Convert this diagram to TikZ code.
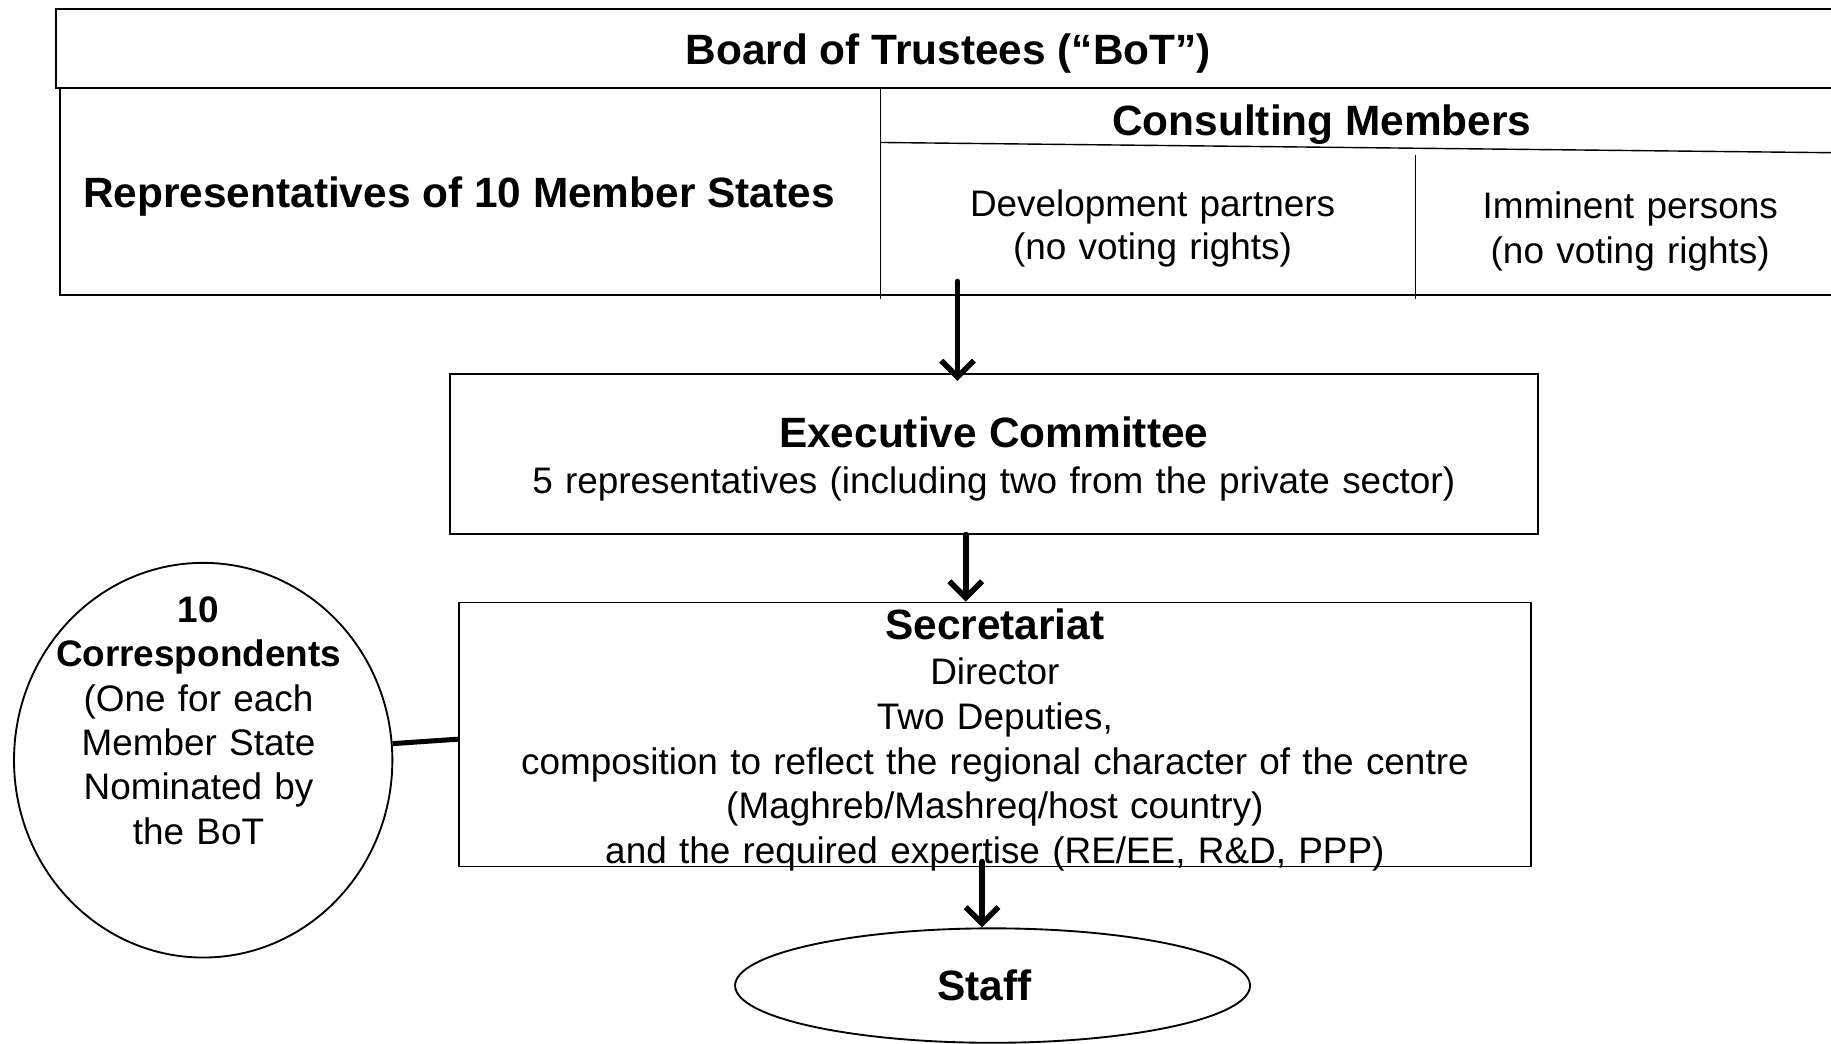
\documentclass[tikz,border=0pt]{standalone}
\usepackage{fontspec}
\setmainfont{Liberation Sans}
\usetikzlibrary{arrows.meta,shapes.geometric}
\begin{document}
\begin{tikzpicture}[x=1pt,y=-1pt,
  bigb/.style={font=\fontsize{36.3}{43}\selectfont\bfseries, inner sep=0pt, anchor=base},
  regtxt/.style={font=\fontsize{31.6}{#1}\selectfont, inner sep=0pt, anchor=base, align=center, text width=940pt},
  frameline/.style={line width=1.8pt},
  thinline/.style={line width=1.2pt},
  boxx/.style={draw, line width=1.6pt, inner sep=0pt},
  arr/.style={line width=4.8pt, line cap=round, -{Straight Barb[length=14pt,width=28pt,line width=4.8pt]}},
  conn/.style={line width=4.3pt}]
\useasboundingbox (0,0) rectangle (1568,894);

% ---- Board of Trustees table ----
\draw[frameline] (1590,8) -- (48,8) -- (48,75) -- (1590,75);
\draw[frameline] (51,75) -- (51,253) -- (1590,253);
\draw[thinline] (754,75) -- (754,256);
\draw[thinline] (754,122) -- (1590,131);
\draw[thinline] (1212,133) -- (1212,256);

\node[bigb] (bot) at (812,55) {Board of Trustees (“BoT”)};
\node[bigb] (rep) at (393,178) {Representatives of 10 Member States};
\node[bigb] (cons) at (1132,116) {Consulting Members};
\node[regtxt=37, text width=420pt] (dev) at (987,185.5) {Development partners\\(no voting rights)};
\node[regtxt=38, text width=400pt] (imm) at (1396,187.5) {Imminent persons\\(no voting rights)};

% ---- Executive Committee ----
\node[boxx, minimum width=932pt, minimum height=137pt] (exec) at (851,388.5) {};
\node[regtxt=39.5] (exectxt) at (851,383) {{\fontsize{36.3}{39.5}\selectfont\bfseries Executive Committee}\\5 representatives (including two from the private sector)};

% ---- Secretariat ----
\node[boxx, minimum width=918pt, minimum height=226pt] (sec) at (852,629) {};
\node[regtxt=38.3] (sectxt) at (852,548) {{\fontsize{36.3}{38.3}\selectfont\bfseries Secretariat}\\Director\\Two Deputies,\\composition to reflect the regional character of the centre\\(Maghreb/Mashreq/host country)\\and the required expertise (RE/EE, R\&D, PPP)};

% ---- Correspondents ----
\node[draw, ellipse, line width=1.6pt, inner sep=0pt, minimum width=324pt, minimum height=338pt] (corr) at (174,651) {};
\node[regtxt=38, text width=320pt] (corrtxt) at (170,533) {\textbf{10}\\\textbf{Correspondents}\\(One for each\\Member State\\Nominated by\\the BoT};

% ---- Staff ----
\node[draw, ellipse, line width=1.6pt, inner sep=0pt, minimum width=441pt, minimum height=98pt] (staff) at (850,844) {};
\node[bigb] (stafftxt) at (843,857) {Staff};

% ---- connectors ----
\coordinate (a1) at (820,241);
\draw[arr] (a1) -- ([yshift=-7pt]exec.north -| a1);
\coordinate (a2) at (827,457);
\draw[arr] (exec.south -| a2) -- (sec.north -| a2);
\coordinate (a3) at (841,742);
\draw[arr] ([yshift=5pt]sec.south -| a3) -- (staff.north -| a3);
\draw[conn] (corr.5) -- ([yshift=-4pt]sec.west);
\end{tikzpicture}
\end{document}
